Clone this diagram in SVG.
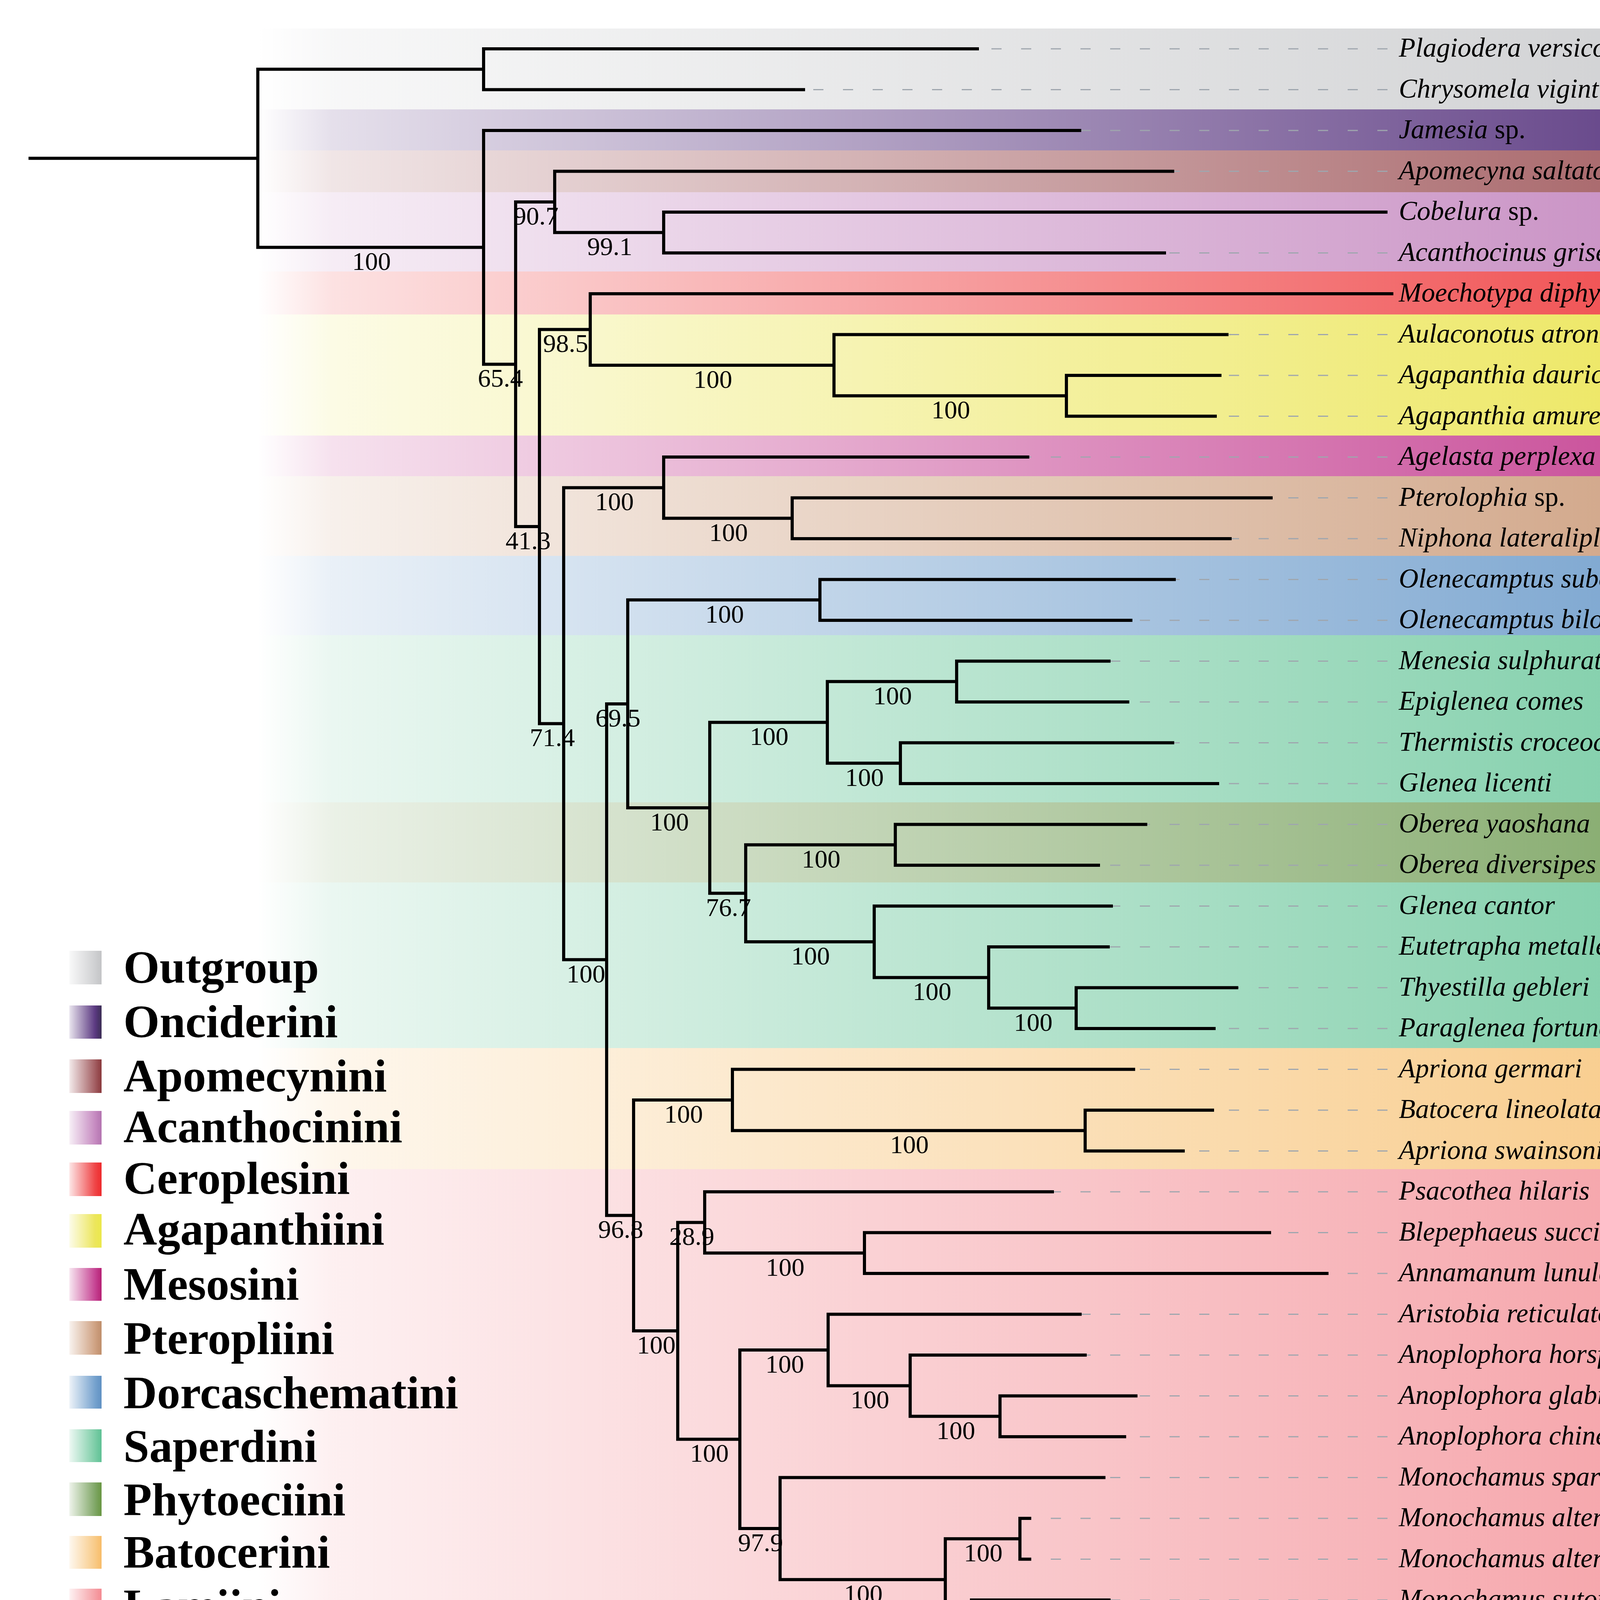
<svg xmlns="http://www.w3.org/2000/svg" width="6068" height="4304" viewBox="0 0 6068 4304">
<style>
.br{fill:none;stroke:#000;stroke-width:8;stroke-linejoin:miter;stroke-linecap:square}
.dl{fill:none;stroke:#9FA6AE;stroke-width:3;stroke-dasharray:26 50}
.tip{font-family:'Liberation Serif','Times New Roman',serif;font-style:italic;font-size:69.5px;fill:#000}
.up{font-style:normal}
.sup{font-family:'Liberation Serif','Times New Roman',serif;font-size:66px;fill:#000;text-anchor:middle}
.grp{font-family:'Liberation Serif','Times New Roman',serif;font-weight:bold;font-size:106px;fill:#000}
.leg{font-family:'Liberation Serif','Times New Roman',serif;font-weight:bold;font-size:119px;fill:#000}
.bar{fill:#231F20}
</style>
<defs>
<linearGradient id="gOut" x1="0" x2="1" y1="0" y2="0"><stop offset="0" stop-color="#CFD0D2" stop-opacity="0"/><stop offset="0.04" stop-color="#CFD0D2" stop-opacity="0.16"/><stop offset="0.8" stop-color="#CFD0D2" stop-opacity="1"/><stop offset="1" stop-color="#C3C4C6"/></linearGradient>
<linearGradient id="gOnc" x1="0" x2="1" y1="0" y2="0"><stop offset="0" stop-color="#5C3A82" stop-opacity="0"/><stop offset="0.04" stop-color="#5C3A82" stop-opacity="0.16"/><stop offset="0.8" stop-color="#5C3A82" stop-opacity="1"/><stop offset="1" stop-color="#3B2D55"/></linearGradient>
<linearGradient id="gApo" x1="0" x2="1" y1="0" y2="0"><stop offset="0" stop-color="#A35E62" stop-opacity="0"/><stop offset="0.04" stop-color="#A35E62" stop-opacity="0.16"/><stop offset="0.8" stop-color="#A35E62" stop-opacity="1"/><stop offset="1" stop-color="#8A393C"/></linearGradient>
<linearGradient id="gAca" x1="0" x2="1" y1="0" y2="0"><stop offset="0" stop-color="#C68BC1" stop-opacity="0"/><stop offset="0.04" stop-color="#C68BC1" stop-opacity="0.16"/><stop offset="0.8" stop-color="#C68BC1" stop-opacity="1"/><stop offset="1" stop-color="#B474B0"/></linearGradient>
<linearGradient id="gCer" x1="0" x2="1" y1="0" y2="0"><stop offset="0" stop-color="#EF4648" stop-opacity="0"/><stop offset="0.04" stop-color="#EF4648" stop-opacity="0.16"/><stop offset="0.8" stop-color="#EF4648" stop-opacity="1"/><stop offset="1" stop-color="#EE2A2C"/></linearGradient>
<linearGradient id="gAga" x1="0" x2="1" y1="0" y2="0"><stop offset="0" stop-color="#ECE65C" stop-opacity="0"/><stop offset="0.04" stop-color="#ECE65C" stop-opacity="0.16"/><stop offset="0.8" stop-color="#ECE65C" stop-opacity="1"/><stop offset="1" stop-color="#EBE84A"/></linearGradient>
<linearGradient id="gMes" x1="0" x2="1" y1="0" y2="0"><stop offset="0" stop-color="#C64594" stop-opacity="0"/><stop offset="0.04" stop-color="#C64594" stop-opacity="0.16"/><stop offset="0.8" stop-color="#C64594" stop-opacity="1"/><stop offset="1" stop-color="#B61F74"/></linearGradient>
<linearGradient id="gPte" x1="0" x2="1" y1="0" y2="0"><stop offset="0" stop-color="#CFA283" stop-opacity="0"/><stop offset="0.04" stop-color="#CFA283" stop-opacity="0.16"/><stop offset="0.8" stop-color="#CFA283" stop-opacity="1"/><stop offset="1" stop-color="#BF8E6A"/></linearGradient>
<linearGradient id="gDor" x1="0" x2="1" y1="0" y2="0"><stop offset="0" stop-color="#76A2CE" stop-opacity="0"/><stop offset="0.04" stop-color="#76A2CE" stop-opacity="0.16"/><stop offset="0.8" stop-color="#76A2CE" stop-opacity="1"/><stop offset="1" stop-color="#5F91C3"/></linearGradient>
<linearGradient id="gSap" x1="0" x2="1" y1="0" y2="0"><stop offset="0" stop-color="#7CCDA7" stop-opacity="0"/><stop offset="0.04" stop-color="#7CCDA7" stop-opacity="0.16"/><stop offset="0.8" stop-color="#7CCDA7" stop-opacity="1"/><stop offset="1" stop-color="#5EC194"/></linearGradient>
<linearGradient id="gPhy" x1="0" x2="1" y1="0" y2="0"><stop offset="0" stop-color="#80A767" stop-opacity="0"/><stop offset="0.04" stop-color="#80A767" stop-opacity="0.16"/><stop offset="0.8" stop-color="#80A767" stop-opacity="1"/><stop offset="1" stop-color="#689641"/></linearGradient>
<linearGradient id="gBat" x1="0" x2="1" y1="0" y2="0"><stop offset="0" stop-color="#F8CA87" stop-opacity="0"/><stop offset="0.04" stop-color="#F8CA87" stop-opacity="0.16"/><stop offset="0.8" stop-color="#F8CA87" stop-opacity="1"/><stop offset="1" stop-color="#F8BC68"/></linearGradient>
<linearGradient id="gLam" x1="0" x2="1" y1="0" y2="0"><stop offset="0" stop-color="#F5A0A6" stop-opacity="0"/><stop offset="0.04" stop-color="#F5A0A6" stop-opacity="0.16"/><stop offset="0.8" stop-color="#F5A0A6" stop-opacity="1"/><stop offset="1" stop-color="#F48A92"/></linearGradient>
</defs>
<rect x="0" y="0" width="6068" height="4304" fill="#FFFFFF"/>
<g id="bands">
<rect x="660" y="73" width="4756" height="207" fill="url(#gOut)"/>
<rect x="660" y="280" width="4756" height="105" fill="url(#gOnc)"/>
<rect x="660" y="385" width="4756" height="107" fill="url(#gApo)"/>
<rect x="660" y="492" width="4756" height="203" fill="url(#gAca)"/>
<rect x="660" y="695" width="4756" height="110" fill="url(#gCer)"/>
<rect x="660" y="805" width="4756" height="310" fill="url(#gAga)"/>
<rect x="660" y="1115" width="4756" height="104" fill="url(#gMes)"/>
<rect x="660" y="1219" width="4756" height="204" fill="url(#gPte)"/>
<rect x="660" y="1423" width="4756" height="203" fill="url(#gDor)"/>
<rect x="660" y="1626" width="4756" height="428" fill="url(#gSap)"/>
<rect x="660" y="2054" width="4756" height="205" fill="url(#gPhy)"/>
<rect x="660" y="2259" width="4756" height="424" fill="url(#gSap)"/>
<rect x="660" y="2683" width="4756" height="310" fill="url(#gBat)"/>
<rect x="660" y="2993" width="4756" height="1255" fill="url(#gLam)"/>
</g>
<g id="legend">
<g id="leg-outgroup"><rect x="176" y="2434" width="84" height="86" fill="url(#gOut)"/><text class="leg" x="316" y="2516">Outgroup</text></g>
<g id="leg-onciderini"><rect x="176" y="2574" width="84" height="85" fill="url(#gOnc)"/><text class="leg" x="316" y="2655">Onciderini</text></g>
<g id="leg-apomecynini"><rect x="176" y="2712" width="84" height="86" fill="url(#gApo)"/><text class="leg" x="316" y="2794">Apomecynini</text></g>
<g id="leg-acanthocinini"><rect x="176" y="2844" width="84" height="86" fill="url(#gAca)"/><text class="leg" x="316" y="2924">Acanthocinini</text></g>
<g id="leg-ceroplesini"><rect x="176" y="2976" width="84" height="86" fill="url(#gCer)"/><text class="leg" x="316" y="3056">Ceroplesini</text></g>
<g id="leg-agapanthiini"><rect x="176" y="3108" width="84" height="86" fill="url(#gAga)"/><text class="leg" x="316" y="3186">Agapanthiini</text></g>
<g id="leg-mesosini"><rect x="176" y="3246" width="84" height="84" fill="url(#gMes)"/><text class="leg" x="316" y="3327">Mesosini</text></g>
<g id="leg-pteropliini"><rect x="176" y="3382" width="84" height="86" fill="url(#gPte)"/><text class="leg" x="316" y="3466">Pteropliini</text></g>
<g id="leg-dorcaschematini"><rect x="176" y="3522" width="84" height="84" fill="url(#gDor)"/><text class="leg" x="316" y="3605">Dorcaschematini</text></g>
<g id="leg-saperdini"><rect x="176" y="3659" width="84" height="84" fill="url(#gSap)"/><text class="leg" x="316" y="3742">Saperdini</text></g>
<g id="leg-phytoeciini"><rect x="176" y="3795" width="84" height="86" fill="url(#gPhy)"/><text class="leg" x="316" y="3879">Phytoeciini</text></g>
<g id="leg-batocerini"><rect x="176" y="3932" width="84" height="84" fill="url(#gBat)"/><text class="leg" x="316" y="4013">Batocerini</text></g>
<g id="leg-lamiini"><rect x="176" y="4067" width="84" height="87" fill="url(#gLam)"/><text class="leg" x="316" y="4150">Lamiini</text></g>
</g>
<g id="leaders">
<path class="dl" d="M3552,125 H2502"/>
<path class="dl" d="M3552,229.5 H2057"/>
<path class="dl" d="M3552,334 H2764"/>
<path class="dl" d="M3552,438.5 H3002"/>
<path class="dl" d="M3552,647.5 H2981"/>
<path class="dl" d="M3552,856.5 H3141"/>
<path class="dl" d="M3552,961 H3123"/>
<path class="dl" d="M3552,1065.5 H3111"/>
<path class="dl" d="M3552,1170 H2631"/>
<path class="dl" d="M3552,1274.5 H3254"/>
<path class="dl" d="M3552,1379 H3149"/>
<path class="dl" d="M3552,1483.5 H3006"/>
<path class="dl" d="M3552,1588 H2895"/>
<path class="dl" d="M3552,1692.5 H2839"/>
<path class="dl" d="M3552,1797 H2887"/>
<path class="dl" d="M3552,1901.5 H3002"/>
<path class="dl" d="M3552,2006 H3117"/>
<path class="dl" d="M3552,2110.5 H2933"/>
<path class="dl" d="M3552,2215 H2812"/>
<path class="dl" d="M3552,2319.5 H2845"/>
<path class="dl" d="M3552,2424 H2837"/>
<path class="dl" d="M3552,2528.5 H3166"/>
<path class="dl" d="M3552,2633 H3108"/>
<path class="dl" d="M3552,2737.5 H2902"/>
<path class="dl" d="M3552,2842 H3104"/>
<path class="dl" d="M3552,2946.5 H3029"/>
<path class="dl" d="M3552,3051 H2694"/>
<path class="dl" d="M3552,3155.5 H3250"/>
<path class="dl" d="M3552,3260 H3397"/>
<path class="dl" d="M3552,3364.5 H2765"/>
<path class="dl" d="M3552,3469 H2778"/>
<path class="dl" d="M3552,3573.5 H2908"/>
<path class="dl" d="M3552,3678 H2879"/>
<path class="dl" d="M3552,3782.5 H2826"/>
<path class="dl" d="M3552,3887 H2636"/>
<path class="dl" d="M3552,3991.5 H2636"/>
<path class="dl" d="M3552,4096 H2839"/>
<path class="dl" d="M3552,4200.5 H2720"/>
</g>
<g id="connectors">
<path class="br" d="M77,405.2 H660"/>
<path class="br" d="M1238,177.25 H660 V633.2 H1238"/>
<path class="br" d="M2502,125 H1238 V229.5 H2057"/>
<path class="br" d="M2764,334 H1238 V932.4 H1320"/>
<path class="br" d="M1420,516.9 H1320 V1348 H1381"/>
<path class="br" d="M3002,438.5 H1420 V595.25 H1699"/>
<path class="br" d="M3548,543 H1699 V647.5 H2981"/>
<path class="br" d="M1511,843.4 H1381 V1852.5 H1443"/>
<path class="br" d="M3563,752 H1511 V934.9 H2135"/>
<path class="br" d="M3141,856.5 H2135 V1013.25 H2730"/>
<path class="br" d="M3123,961 H2730 V1065.5 H3111"/>
<path class="br" d="M1699,1248.4 H1443 V2456.7 H1553"/>
<path class="br" d="M2631,1170 H1699 V1326.75 H2028"/>
<path class="br" d="M3254,1274.5 H2028 V1379 H3149"/>
<path class="br" d="M1607,1801.9 H1553 V3111.4 H1622"/>
<path class="br" d="M2099,1535.75 H1607 V2068 H1817"/>
<path class="br" d="M3006,1483.5 H2099 V1588 H2895"/>
<path class="br" d="M2118,1849.25 H1817 V2286.8 H1909"/>
<path class="br" d="M2449,1744.75 H2118 V1953.75 H2305"/>
<path class="br" d="M2839,1692.5 H2449 V1797 H2887"/>
<path class="br" d="M3002,1901.5 H2305 V2006 H3117"/>
<path class="br" d="M2292,2162.75 H1909 V2410.9 H2238"/>
<path class="br" d="M2933,2110.5 H2292 V2215 H2812"/>
<path class="br" d="M2845,2319.5 H2238 V2502.4 H2531"/>
<path class="br" d="M2837,2424 H2531 V2580.75 H2755"/>
<path class="br" d="M3166,2528.5 H2755 V2633 H3108"/>
<path class="br" d="M1875,2815.9 H1622 V3407 H1735"/>
<path class="br" d="M2902,2737.5 H1875 V2894.25 H2778"/>
<path class="br" d="M3104,2842 H2778 V2946.5 H3029"/>
<path class="br" d="M1804,3129.4 H1735 V3684.5 H1894"/>
<path class="br" d="M2694,3051 H1804 V3207.75 H2213"/>
<path class="br" d="M3250,3155.5 H2213 V3260 H3397"/>
<path class="br" d="M2120,3455.9 H1894 V3913.1 H1997"/>
<path class="br" d="M2765,3364.5 H2120 V3547.4 H2330"/>
<path class="br" d="M2778,3469 H2330 V3625.75 H2560"/>
<path class="br" d="M2908,3573.5 H2560 V3678 H2879"/>
<path class="br" d="M2826,3782.5 H1997 V4043.75 H2420"/>
<path class="br" d="M2611,3939.25 H2420 V4148.25 H2487"/>
<path class="br" d="M2636,3887 H2611 V3991.5 H2636"/>
<path class="br" d="M2839,4096 H2487 V4200.5 H2720"/>
</g>
<g id="support">
<text class="sup" x="951" y="691">100</text>
<text class="sup" x="1281" y="990">65.4</text>
<text class="sup" x="1372" y="575">90.7</text>
<text class="sup" x="1561" y="653">99.1</text>
<text class="sup" x="1352" y="1406">41.3</text>
<text class="sup" x="1448" y="901">98.5</text>
<text class="sup" x="1825" y="993">100</text>
<text class="sup" x="2434" y="1071">100</text>
<text class="sup" x="1414" y="1910">71.4</text>
<text class="sup" x="1573" y="1306">100</text>
<text class="sup" x="1865" y="1385">100</text>
<text class="sup" x="1500" y="2515">100</text>
<text class="sup" x="1582" y="1860">69.5</text>
<text class="sup" x="1855" y="1594">100</text>
<text class="sup" x="1714" y="2126">100</text>
<text class="sup" x="1969" y="1907">100</text>
<text class="sup" x="2285" y="1803">100</text>
<text class="sup" x="2213" y="2012">100</text>
<text class="sup" x="1865" y="2345">76.7</text>
<text class="sup" x="2102" y="2221">100</text>
<text class="sup" x="2075" y="2469">100</text>
<text class="sup" x="2386" y="2560">100</text>
<text class="sup" x="2645" y="2639">100</text>
<text class="sup" x="1589" y="3169">96.8</text>
<text class="sup" x="1750" y="2874">100</text>
<text class="sup" x="2328" y="2952">100</text>
<text class="sup" x="1680" y="3465">100</text>
<text class="sup" x="1771" y="3187">28.9</text>
<text class="sup" x="2010" y="3266">100</text>
<text class="sup" x="1816" y="3742">100</text>
<text class="sup" x="2009" y="3514">100</text>
<text class="sup" x="2227" y="3605">100</text>
<text class="sup" x="2447" y="3684">100</text>
<text class="sup" x="1947" y="3971">97.9</text>
<text class="sup" x="2210" y="4102">100</text>
<text class="sup" x="2517" y="3997">100</text>
<text class="sup" x="2455" y="4206">99</text>
</g>
<g id="taxa">
<g id="t01"><text class="tip" x="3581" y="145">Plagiodera versicolora</text></g>
<g id="t02"><text class="tip" x="3581" y="249.5">Chrysomela vigintipunctata</text></g>
<g id="t03"><text class="tip" x="3581" y="354">Jamesia<tspan class="up"> sp.</tspan></text></g>
<g id="t04"><text class="tip" x="3581" y="458.5">Apomecyna saltator</text></g>
<g id="t05"><text class="tip" x="3581" y="563">Cobelura<tspan class="up"> sp.</tspan></text></g>
<g id="t06"><text class="tip" x="3581" y="667.5">Acanthocinus griseus</text></g>
<g id="t07"><text class="tip" x="3581" y="772">Moechotypa diphysis</text></g>
<g id="t08"><text class="tip" x="3581" y="876.5">Aulaconotus atronotatus</text></g>
<g id="t09"><text class="tip" x="3581" y="981">Agapanthia daurica</text></g>
<g id="t10"><text class="tip" x="3581" y="1085.5">Agapanthia amurensis</text></g>
<g id="t11"><text class="tip" x="3581" y="1190">Agelasta perplexa</text></g>
<g id="t12"><text class="tip" x="3581" y="1294.5">Pterolophia<tspan class="up"> sp.</tspan></text></g>
<g id="t13"><text class="tip" x="3581" y="1399">Niphona lateraliplagiata</text></g>
<g id="t14"><text class="tip" x="3581" y="1503.5">Olenecamptus subobliteratus</text></g>
<g id="t15"><text class="tip" x="3581" y="1608">Olenecamptus bilobus</text></g>
<g id="t16"><text class="tip" x="3581" y="1712.5">Menesia sulphurata</text></g>
<g id="t17"><text class="tip" x="3581" y="1817">Epiglenea comes</text></g>
<g id="t18"><text class="tip" x="3581" y="1921.5">Thermistis croceocincta</text></g>
<g id="t19"><text class="tip" x="3581" y="2026">Glenea licenti</text></g>
<g id="t20"><text class="tip" x="3581" y="2130.5">Oberea yaoshana</text></g>
<g id="t21"><text class="tip" x="3581" y="2235">Oberea diversipes</text></g>
<g id="t22"><text class="tip" x="3581" y="2339.5">Glenea cantor</text></g>
<g id="t23"><text class="tip" x="3581" y="2444">Eutetrapha metallescens</text></g>
<g id="t24"><text class="tip" x="3581" y="2548.5">Thyestilla gebleri</text></g>
<g id="t25"><text class="tip" x="3581" y="2653">Paraglenea fortunei</text></g>
<g id="t26"><text class="tip" x="3581" y="2757.5">Apriona germari</text></g>
<g id="t27"><text class="tip" x="3581" y="2862">Batocera lineolata</text></g>
<g id="t28"><text class="tip" x="3581" y="2966.5">Apriona swainsoni</text></g>
<g id="t29"><text class="tip" x="3581" y="3071">Psacothea hilaris</text></g>
<g id="t30"><text class="tip" x="3581" y="3175.5">Blepephaeus succinctor</text></g>
<g id="t31"><text class="tip" x="3581" y="3280">Annamanum lunulatum</text></g>
<g id="t32"><text class="tip" x="3581" y="3384.5">Aristobia reticulator</text></g>
<g id="t33"><text class="tip" x="3581" y="3489">Anoplophora horsfieldi</text></g>
<g id="t34"><text class="tip" x="3581" y="3593.5">Anoplophora glabripennis</text></g>
<g id="t35"><text class="tip" x="3581" y="3698">Anoplophora chinensis</text></g>
<g id="t36"><text class="tip" x="3581" y="3802.5">Monochamus sparsutus</text></g>
<g id="t37"><text class="tip" x="3581" y="3907">Monochamus alternatus alternatus</text></g>
<g id="t38"><text class="tip" x="3581" y="4011.5">Monochamus alternatus</text></g>
<g id="t39"><text class="tip" x="3581" y="4116">Monochamus sutor</text></g>
<g id="t40"><text class="tip" x="3581" y="4220.5">Monochamus sartor urussovii</text></g>
</g>
<g id="clades">
<g id="c-outgroup"><rect class="bar" x="4577" y="88" width="31" height="178"/><text class="grp" x="4636" y="216">Outgroup</text></g>
<g id="c-onciderini"><rect class="bar" x="4577" y="294" width="31" height="77"/><text class="grp" x="4636" y="367">Onciderini</text></g>
<g id="c-apomecynini"><rect class="bar" x="4577" y="398" width="31" height="76"/><text class="grp" x="4636" y="469">Apomecynini</text></g>
<g id="c-acanthocinini"><rect class="bar" x="4577" y="503" width="31" height="175"/><text class="grp" x="4636" y="634">Acanthocinini</text></g>
<g id="c-ceroplesini"><rect class="bar" x="4577" y="708" width="31" height="76"/><text class="grp" x="4636" y="781">Ceroplesini</text></g>
<g id="c-agapanthiini"><rect class="bar" x="4577" y="823" width="31" height="275"/><text class="grp" x="4636" y="993">Agapanthiini</text></g>
<g id="c-mesosini"><rect class="bar" x="4577" y="1126" width="31" height="77"/><text class="grp" x="4636" y="1201">Mesosini</text></g>
<g id="c-pteropliini"><rect class="bar" x="4577" y="1234" width="31" height="175"/><text class="grp" x="4636" y="1363">Pteropliini</text></g>
<g id="c-dorcaschematini"><rect class="bar" x="4577" y="1436" width="31" height="176"/><text class="grp" x="4636" y="1558">Dorcaschematini</text></g>
<g id="c-saperdini1"><rect class="bar" x="4577" y="1660" width="31" height="371"/><text class="grp" x="4636" y="1862">Saperdini 1</text></g>
<g id="c-phytoeciini"><rect class="bar" x="4574" y="2064" width="36" height="180"/><text class="grp" x="4636" y="2181">Phytoeciini</text></g>
<g id="c-saperdini2"><rect class="bar" x="4577" y="2282" width="31" height="373"/><text class="grp" x="4636" y="2520">Saperdini 2</text></g>
<g id="c-batocerini"><rect class="bar" x="4577" y="2698" width="31" height="273"/><text class="grp" x="4636" y="2886">Batocerini</text></g>
<g id="c-lamiini"><rect class="bar" x="4577" y="3014" width="31" height="1222"/><text class="grp" x="4636" y="3590">Lamiini</text></g>
<g id="c-lamiinae"><rect class="bar" x="5447" y="288" width="32" height="3969"/><text class="grp" x="5510" y="2431" style="font-size:128px">Lamiinae</text></g>
</g>
</svg>
